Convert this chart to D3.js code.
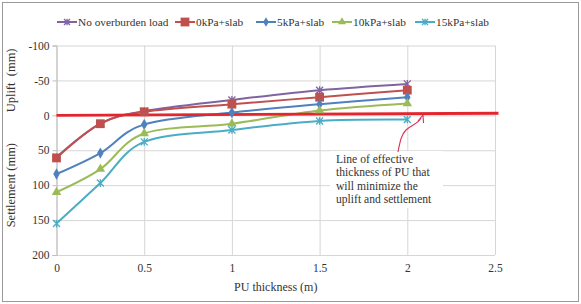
<!DOCTYPE html>
<html>
<head>
<meta charset="utf-8">
<script src="https://cdn.jsdelivr.net/npm/d3@7"></script>
<style>
  html, body { margin: 0; padding: 0; background: #fff; }
  svg { display: block; font-family: "Liberation Serif", "Times New Roman", serif; }
</style>
</head>
<body>
<div id="chart"></div>
<script>
// Données (mm ; négatif = soulèvement)
const thickness = [0, 0.25, 0.5, 1, 1.5, 2]
const noLoad = [60, 12, -6, -22, -36, -45]
const kPa0 = [61, 12, -5, -16, -26, -36]
const kPa5 = [84, 54, 13, -4, -16, -26]
const kPa10 = [110, 77, 26, 12, -7, -17]
const kPa15 = [155, 97, 38, 21, 8, 6]
const seriesNames = ["No overburden load", "0kPa+slab", "5kPa+slab", "10kPa+slab", "15kPa+slab"]
const xTicks = [0, 0.5, 1, 1.5, 2, 2.5]
const yTicks = [-100, -50, 0, 50, 100, 150, 200]
const refLine = [[0, 0], [2.52, -3]]
const noteLines = ["Line of effective", "thickness of PU that", "will minimize the", "uplift and settlement"]

const W = 581, H = 304
const margin = { top: 45.5, right: 86, bottom: 49, left: 56.5 }
const width = W - margin.left - margin.right
const height = H - margin.top - margin.bottom

const svg = d3.select("#chart").append("svg")
  .attr("width", W).attr("height", H)

svg.append("rect")
  .attr("x", 2.5).attr("y", 2.5).attr("width", W - 5).attr("height", H - 5)
  .attr("fill", "#fff").attr("stroke", "#9a9a9a")

const g = svg.append("g").attr("transform", `translate(${margin.left},${margin.top})`)

const x = d3.scaleLinear().domain([0, 2.5]).range([0, width])
const y = d3.scaleLinear().domain([-100, 200]).range([0, height])

// Grille
g.append("g")
  .call(d3.axisLeft(y).tickValues(yTicks).tickSize(-width).tickFormat(""))
  .attr("color", "#d6d6d6")
  .call((s) => s.select(".domain").remove())
g.append("g")
  .attr("transform", `translate(0,${height})`)
  .call(d3.axisBottom(x).tickValues(xTicks).tickSize(-height).tickFormat(""))
  .attr("color", "#d6d6d6")
  .call((s) => s.select(".domain").remove())

// Axes (tirets ASCII comme dans Excel)
g.append("g")
  .call(d3.axisLeft(y).tickValues(yTicks).tickSize(4).tickPadding(3).tickFormat((d) => String(d)))
  .attr("color", "#bdbdbd")
  .call((s) => s.selectAll("text").attr("fill", "#333").attr("font-size", 11.5).attr("font-family", "Liberation Serif"))
g.append("g")
  .attr("transform", `translate(0,${height})`)
  .call(d3.axisBottom(x).tickValues(xTicks).tickSize(0).tickPadding(9).tickFormat((d) => String(d)))
  .attr("color", "#bdbdbd")
  .call((s) => s.select(".domain").remove())
  .call((s) => s.selectAll("text").attr("fill", "#333").attr("font-size", 11.5).attr("font-family", "Liberation Serif"))

// Titres d'axes
g.append("text")
  .attr("x", width / 2).attr("y", height + 36)
  .attr("text-anchor", "middle").attr("fill", "#333").attr("font-size", 12)
  .text("PU thickness (m)")
g.append("text")
  .attr("transform", "rotate(-90)")
  .attr("x", -y(-50)).attr("y", -42)
  .attr("text-anchor", "middle").attr("fill", "#333").attr("font-size", 12.5)
  .text("Uplift\u00a0 (mm)")
g.append("text")
  .attr("transform", "rotate(-90)")
  .attr("x", -y(100)).attr("y", -42)
  .attr("text-anchor", "middle").attr("fill", "#333").attr("font-size", 12.5)
  .text("Settlement (mm)")

// Séries
const colors = ["#8064a2", "#c0504d", "#4f81bd", "#9bbb59", "#4bacc6"]
const markers = ["asterisk", "square", "diamond", "triangle", "star"]
const values = [noLoad, kPa0, kPa5, kPa10, kPa15]
const series = seriesNames.map((name, i) => ({
  name, color: colors[i], marker: markers[i],
  points: thickness.map((t, j) => ({ x: t, y: values[i][j] }))
}))

function drawMarker(sel, type, color, size) {
  const s = size
  if (type === "square") {
    sel.append("rect").attr("x", -s * 0.55).attr("y", -s * 0.55).attr("width", s * 1.1).attr("height", s * 1.1).attr("fill", color)
  } else if (type === "diamond") {
    sel.append("path").attr("d", d3.symbol(d3.symbolDiamond, s * s * 0.75)()).attr("fill", color)
  } else if (type === "triangle") {
    sel.append("path").attr("d", d3.symbol(d3.symbolTriangle, s * s * 0.8)()).attr("fill", color)
  } else {
    const r = s * 0.5
    sel.append("path").attr("d", `M${-r},${-r}L${r},${r}M${-r},${r}L${r},${-r}M0,${-r * 1.1}L0,${r * 1.1}`)
      .attr("stroke", color).attr("stroke-width", 1.3).attr("fill", "none")
  }
}

const line = d3.line()
  .x((d) => x(d.x)).y((d) => y(d.y))
  .curve(d3.curveCatmullRom.alpha(0))

series.forEach((s) => {
  g.append("path")
    .datum(s.points)
    .attr("d", line)
    .attr("fill", "none").attr("stroke", s.color).attr("stroke-width", 2)
})

// Ligne de référence (épaisseur efficace)
g.append("line")
  .attr("x1", x(refLine[0][0])).attr("y1", y(refLine[0][1]))
  .attr("x2", x(refLine[1][0])).attr("y2", y(refLine[1][1]))
  .attr("stroke", "#e3262e").attr("stroke-width", 2.8)

series.forEach((s) => {
  s.points.forEach((p) => {
    const m = g.append("g").attr("transform", `translate(${x(p.x)},${y(p.y)})`)
    drawMarker(m, s.marker, s.color, s.marker === "square" ? 8 : 7)
  })
})

// Annotation
const note = svg.append("g").attr("transform", "translate(336,163)")
note.append("rect")
  .attr("x", -6).attr("y", -12).attr("width", 113).attr("height", 57)
  .attr("fill", "#fff")
noteLines.forEach((t, i) => {
  note.append("text").attr("x", 0).attr("y", i * 13.3)
    .attr("fill", "#333").attr("font-size", 11.6).text(t)
})

svg.append("path")
  .attr("d", "M398,152 C400,142 401,135 406,130 C411,125 418,124 421,118")
  .attr("fill", "none").attr("stroke", "#d9305a").attr("stroke-width", 1.1)
svg.append("path")
  .attr("d", "M418,121 L423,115 L423.5,123")
  .attr("fill", "none").attr("stroke", "#d9305a").attr("stroke-width", 1.1)

// Légende
const legendItems = [
  { x: 57, i: 0 }, { x: 175, i: 1 }, { x: 256, i: 2 }, { x: 332, i: 3 }, { x: 415, i: 4 }
]
legendItems.forEach(({ x: lx, i }) => {
  const row = svg.append("g").attr("transform", `translate(${lx},22)`)
  row.append("line").attr("x1", 0).attr("x2", 20).attr("stroke", colors[i]).attr("stroke-width", 2)
  drawMarker(row.append("g").attr("transform", "translate(10,0)"), markers[i], colors[i], i === 1 ? 8 : 6)
  row.append("text").attr("x", 21).attr("y", 4)
    .attr("fill", "#333").attr("font-size", 11.3).text(seriesNames[i])
})
</script>
</body>
</html>
